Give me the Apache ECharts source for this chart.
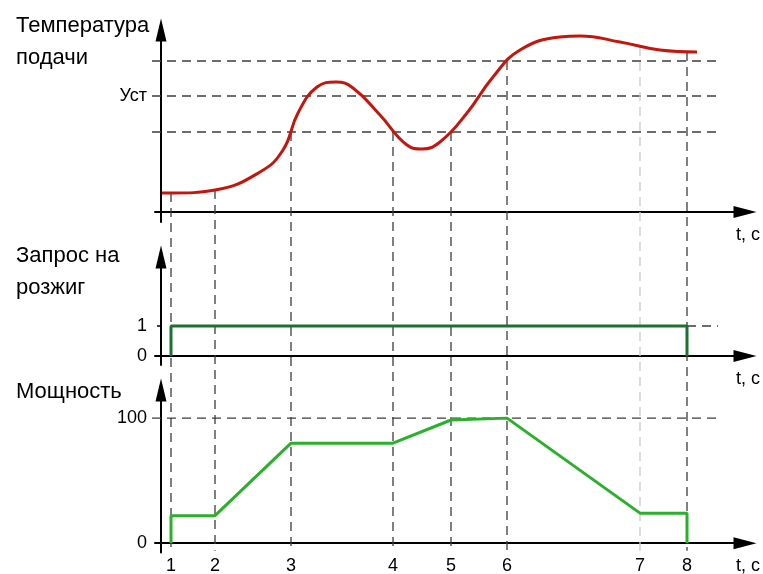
<!DOCTYPE html>
<html>
<head>
<meta charset="utf-8">
<script src="https://cdn.jsdelivr.net/npm/echarts@6/dist/echarts.min.js"></script>
<style>
  html, body { margin: 0; padding: 0; background: #fff; }
  #chart { width: 763px; height: 574px; }
</style>
</head>
<body>
<div id="chart"></div>
<script>
// ---- data ----
const markLabels = ['1', '2', '3', '4', '5', '6', '7', '8'];
const markT = [10, 54, 130, 232, 290, 346, 479, 526];
const markTop = [19, 22, 80, 80, 80, 151, 165, 160];   // temperature at each mark

const tempT = [1, 11, 54, 99, 122, 137, 156, 175, 192, 219, 246, 261, 279, 306, 332, 359, 399, 419, 459, 499, 536];
const tempV = [19, 19, 22, 40, 62, 99, 125, 130, 124, 97, 67, 63, 70, 99, 135, 162, 175, 176, 170, 162, 160];
const tempLevels = [80, 116, 151];
const setpointValue = 116;
const setpointLabel = 'Уст';

const reqT = [10, 10, 526, 526];
const reqV = [0, 1, 1, 0];
const reqTicks = [0, 1];

const powerT = [10, 10, 54, 130, 232, 290, 346, 479, 526, 526];
const powerV = [0, 22, 22, 80, 80, 98.5, 100, 24, 24, 0];
const powerTicks = [0, 100];

const titles = ['Температура\nподачи', 'Запрос на\nрозжиг', 'Мощность'];
const timeName = 't, c';

const guideStart = -9, guideEnd = 557, vBottom = -6;
const faintMark = 6;

// ---- chart ----
const chart = echarts.init(document.getElementById('chart'), null, { renderer: 'canvas' });
const FONT = "'Liberation Sans', Arial, sans-serif";
const zip = (a, b) => a.map((v, i) => [v, b[i]]);

const dashColor = '#3c3c3c';
function hLine(params, api) {
  const a = api.coord([api.value(0), api.value(2)]);
  const b = api.coord([api.value(1), api.value(2)]);
  return { type: 'line', shape: { x1: a[0], y1: a[1], x2: b[0], y2: b[1] },
    style: { stroke: dashColor, lineWidth: 1.3, lineDash: [9, 6] } };
}
function vLine(params, api) {
  const t = api.value(0);
  const top = api.coord([t, api.value(1)]);
  let bottom = null;
  try { bottom = chart.convertToPixel({ gridIndex: 2 }, [t, vBottom]); } catch (e) { bottom = null; }
  if (!bottom) return;
  return { type: 'line', shape: { x1: top[0], y1: top[1], x2: top[0], y2: bottom[1] },
    style: { stroke: params.dataIndex === faintMark ? '#c9c9c9' : dashColor, lineWidth: 1.3, lineDash: [9, 6] } };
}

const grids = [
  { left: 155, width: 590, top: 30, height: 192 },
  { left: 155, width: 590, top: 257, height: 108 },
  { left: 155, width: 590, top: 390, height: 162.5 }
].map(g => Object.assign({ outerBoundsMode: 'none', containLabel: false }, g));

const axisLineStyle = { color: '#000', width: 2 };

const xAxes = [0, 1, 2].map(i => ({
  gridIndex: i, type: 'value', min: -6, max: 584,
  axisLine: { onZero: true, symbol: ['none', 'triangle'], symbolSize: [12, 23], lineStyle: axisLineStyle },
  axisTick: { show: false },
  splitLine: { show: false },
  axisLabel: {
    show: i === 2, customValues: markT, margin: 5,
    color: '#000', fontSize: 18, fontFamily: FONT,
    formatter: v => markLabels[markT.indexOf(v)]
  },
  name: timeName, nameLocation: 'end', nameGap: -9, nameMoveOverlap: false,
  nameTextStyle: { align: 'left', verticalAlign: 'top', padding: [14, 0, 0, 0], color: '#000', fontSize: 18, fontFamily: FONT }
}));

function yAxisBase(i, min, max, labels, fmt) {
  return {
    gridIndex: i, type: 'value', min: min, max: max,
    axisLine: { onZero: true, symbol: ['none', 'triangle'], symbolSize: [11, 23], lineStyle: axisLineStyle },
    axisTick: { show: false },
    splitLine: { show: false },
    axisLabel: { customValues: labels, margin: 8, color: '#000', fontSize: 18, fontFamily: FONT, formatter: fmt }
  };
}
const yAxes = [
  yAxisBase(0, -10, 182, [setpointValue], () => setpointLabel),
  yAxisBase(1, -0.3, 3.3, reqTicks, v => String(v)),
  yAxisBase(2, -7.5, 122.5, powerTicks, v => String(v))
];
yAxes[1].axisTick = { show: true, customValues: [1], length: 4, lineStyle: { color: '#000', width: 1.5 } };

const titleTops = [10.4, 240.4, 376.4];
const title = titles.map((t, i) => ({
  text: t, left: 16, top: titleTops[i], padding: 0,
  textStyle: { fontSize: 22, fontWeight: 'normal', color: '#000', fontFamily: FONT, lineHeight: 32 }
}));

const option = {
  animation: false,
  backgroundColor: '#fff',
  title: title,
  grid: grids,
  xAxis: xAxes,
  yAxis: yAxes,
  series: [
    { type: 'custom', xAxisIndex: 0, yAxisIndex: 0, z: 1, silent: true,
      data: tempLevels.map(v => [guideStart, guideEnd, v]), renderItem: hLine },
    { type: 'custom', xAxisIndex: 1, yAxisIndex: 1, z: 1, silent: true,
      data: [[reqT[2], guideEnd, reqV[2]]], renderItem: hLine },
    { type: 'custom', xAxisIndex: 2, yAxisIndex: 2, z: 1, silent: true,
      data: [[guideStart, guideEnd, powerTicks[1]]], renderItem: hLine },
    { type: 'custom', xAxisIndex: 0, yAxisIndex: 0, z: 1, silent: true,
      data: zip(markT, markTop), renderItem: vLine },
    { type: 'line', xAxisIndex: 0, yAxisIndex: 0, z: 5, data: zip(tempT, tempV), smooth: 0.45,
      showSymbol: false, symbol: 'none', lineStyle: { color: '#c4160c', width: 3 } },
    { type: 'line', xAxisIndex: 1, yAxisIndex: 1, z: 5, data: zip(reqT, reqV),
      showSymbol: false, symbol: 'none', lineStyle: { color: '#1d7030', width: 3 } },
    { type: 'line', xAxisIndex: 2, yAxisIndex: 2, z: 5, data: zip(powerT, powerV),
      showSymbol: false, symbol: 'none', lineStyle: { color: '#2bb02b', width: 3 } }
  ]
};
chart.setOption(option);
// re-render once layout exists so cross-panel guide lines are drawn
chart.setOption({ series: option.series });
</script>
</body>
</html>
